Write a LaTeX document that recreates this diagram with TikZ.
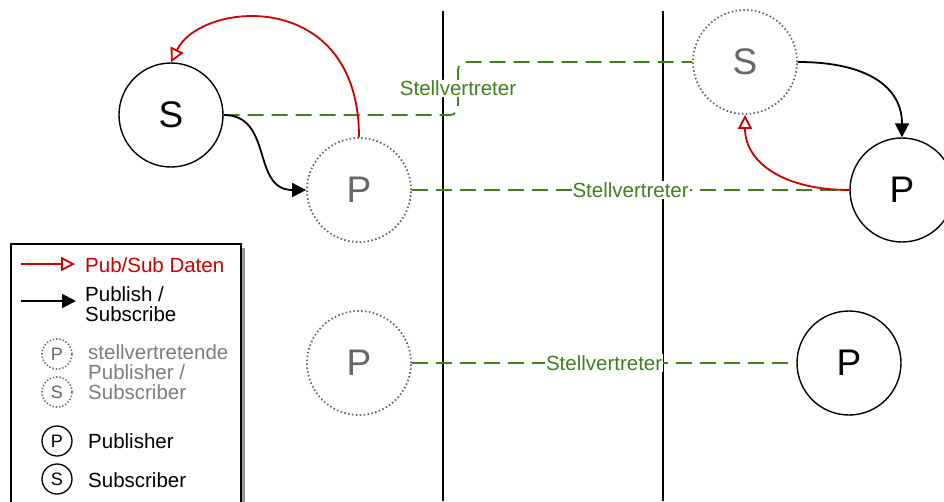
\documentclass[tikz,border=0pt]{standalone}
\usepackage{fontspec}
\setmainfont{Liberation Sans}
\usetikzlibrary{arrows.meta}
\usetikzlibrary{positioning}
\usetikzlibrary{shadows}
\definecolor{proxygreen}{RGB}{64,128,32}
\definecolor{datared}{RGB}{204,0,0}
\definecolor{proxygray}{RGB}{102,102,102}
\tikzstyle{realnode} = [draw, circle, line width=1.4pt, minimum size=104pt, inner sep=0pt, font=\fontsize{37}{40}\selectfont]
\tikzstyle{proxynode} = [realnode, draw=proxygray, line width=1.8pt, dash pattern=on 1.5pt off 2.4pt, text=proxygray]
\tikzstyle{smallnode} = [draw, circle, line width=1.3pt, minimum size=30pt, inner sep=0pt, font=\fontsize{18}{20}\selectfont]
\tikzstyle{smallproxy} = [smallnode, draw=proxygray, line width=1.6pt, dash pattern=on 1.3pt off 2pt, text=proxygray]
\tikzstyle{proxyline} = [proxygreen, line width=1.8pt, dash pattern=on 16pt off 8pt]
\tikzstyle{proxylabel} = [fill=white, text=proxygreen, inner sep=1pt, font=\fontsize{20.5}{22}\selectfont]
\tikzstyle{dataflow} = [datared, line width=1.8pt, -{Triangle[open, length=14pt, width=14pt]}]
\tikzstyle{pubsub} = [black, line width=1.8pt, -{Triangle[length=14pt, width=14pt]}]
\tikzstyle{legendbox} = [draw, fill=white, line width=1.8pt, drop shadow={shadow xshift=4pt, shadow yshift=-4pt, fill=black!40, opacity=1}]
\tikzstyle{legendtext} = [anchor=base west, align=left, inner sep=0pt, font=\fontsize{20.5}{20}\selectfont]

\begin{document}
\begin{tikzpicture}[x=1pt, y=-1pt]
  \useasboundingbox (0,0) rectangle (944,501);

  \draw[line width=1.8pt] (443,11) -- (443,501);
  \draw[line width=1.8pt] (663,11) -- (663,501);

  \node[realnode] (S_l) at (171,115) {S};
  \node[proxynode] (P_l) at (359,190) {P};
  \node[proxynode] (S_r) at (745,62) {S};
  \node[realnode] (P_r) at (902,190) {P};
  \node[proxynode] (P_lb) at (359,363) {P};
  \node[realnode] (P_rb) at (849,363) {P};

  \coordinate (bend) at (458,0);
  \draw[proxyline, rounded corners=8pt] (S_l.east) -- (S_l.east -| bend) -- node[proxylabel, solid] {Stellvertreter} (S_r.west -| bend) -- (S_r.west);
  \draw[proxyline] (P_l.east) -- node[proxylabel, solid] {Stellvertreter} (P_r.west);
  \draw[proxyline] (P_lb.east) -- node[proxylabel, solid] {Stellvertreter} (P_rb.west);

  \draw[dataflow] (P_l.north) .. controls +(0,-150) and +(30,-62) .. (S_l.north);
  \draw[pubsub] (S_l.east) .. controls +(50,0) and +(-55,0) .. (P_l.west);
  \draw[pubsub] (S_r.east) .. controls +(70,0) and +(0,-50) .. (P_r.north);
  \draw[dataflow] (P_r.west) .. controls +(-65,0) and +(0,48) .. (S_r.south);

  \node[legendbox, anchor=north west, minimum width=230pt, minimum height=300pt] (legend) at (10,243) {};
  \coordinate (redA) at (21,264);
  \coordinate (redB) at (75,264);
  \coordinate (blackA) at (21,301);
  \coordinate (blackB) at (76,301);
  \draw[dataflow] (redA) -- (redB);
  \draw[pubsub] (blackA) -- (blackB);
  \node[legendtext, text=datared] (l_data) at (85,272) {Pub/Sub Daten};
  \node[legendtext] (l_pubsub) at (85,321) {Publish /\\Subscribe};
  \node[smallproxy] (lp_proxy) at (57,354) {P};
  \node[smallproxy] (ls_proxy) at (57,392) {S};
  \node[legendtext, text=proxygray!85] (l_proxy) at (88,399) {stellvertretende\\Publisher /\\Subscriber};
  \node[smallnode] (lp_real) at (57,441) {P};
  \node[smallnode] (ls_real) at (57,479) {S};
  \node[legendtext] (l_pub) at (88,448) {Publisher};
  \node[legendtext] (l_sub) at (88,487) {Subscriber};
\end{tikzpicture}
\end{document}
